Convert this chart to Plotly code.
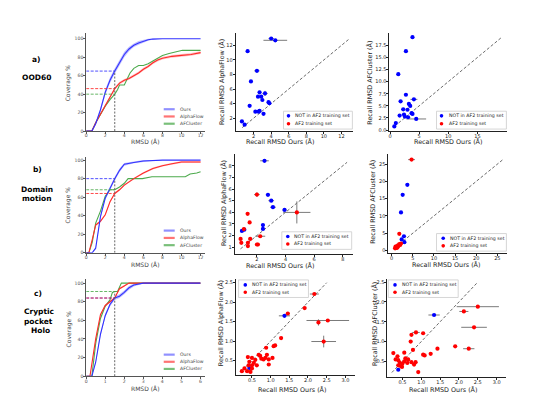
import plotly.graph_objects as go

W, H = 554, 394

# ---------------- Coverage curves (column 1) ----------------
# Row a) OOD60
ours_a_x = [0, 0.6, 1.0, 1.5, 2.0, 2.5, 3.0, 3.5, 4.0, 4.5, 5.0, 5.5, 6.0, 6.5, 7.0, 8.0, 12.0]
ours_a_y = [0, 0, 8, 23, 42, 55, 65, 74, 83, 89, 93, 95.5, 97.5, 99, 99.7, 100, 100]
ours_a_sd = [0, 0, 1.5, 2.5, 3, 3, 3, 3, 3, 2.5, 2, 2, 1.5, 1, 0.5, 0, 0]
af_a_x = [0, 0.6, 1.0, 1.5, 2.0, 2.5, 3.0, 3.5, 4.0, 4.5, 5.0, 5.5, 6.0, 6.5, 7.0, 7.5, 8.0, 9.0, 10.0, 11.0, 12.0]
af_a_y = [0, 0, 9, 18, 28, 37, 46, 52, 55, 57, 60, 63, 67, 70, 74, 77, 79, 81, 82, 83, 85]
af_a_sd = [0, 0, 1, 1, 1.5, 1.5, 1.5, 1.5, 1.5, 1.5, 1.5, 1.5, 1.5, 1.5, 1.5, 1.5, 1.5, 1.5, 1.5, 1.5, 1.5]
afc_a_x = [0, 0.6, 1.0, 1.5, 2.0, 2.5, 3.0, 3.3, 3.5, 4.0, 4.3, 4.6, 5.0, 5.5, 6.0, 6.5, 7.0, 7.5, 8.0, 8.7, 9.4, 10.1, 12.0]
afc_a_y = [0, 0, 9, 18, 27, 34, 40, 45, 50, 50, 57, 63, 68, 71, 71, 73, 76, 79, 82, 84, 86, 87.5, 87.5]
thr_a_x = 3.0
thr_a = [65, 46, 40]   # Ours, AlphaFlow, AFCluster coverage at threshold

# Row b) Domain motion
ours_b_x = [0, 0.63, 1.0, 1.33, 1.5, 2.0, 2.5, 3.0, 3.5, 4.0, 5.0, 6.0, 8.0, 12.0]
ours_b_y = [0, 0, 5, 25, 39, 59, 70, 80, 89, 95.5, 97.5, 99, 100, 100]
ours_b_sd = [0, 0, 1, 1.5, 2, 2, 2, 2, 2, 1.5, 1, 1, 0, 0]
af_b_x = [0, 0.28, 0.63, 1.0, 1.5, 2.0, 2.5, 3.0, 3.5, 4.0, 5.0, 6.0, 7.0, 8.0, 9.0, 10.0, 12.0]
af_b_y = [0, 0, 14, 30, 34, 41, 55, 64, 68, 73, 80, 86, 91, 94, 96, 98, 98]
af_b_sd = [0, 0, 1, 1, 1, 1, 1, 1, 1, 1, 1, 1, 1, 1, 1, 1, 1]
afc_b_x = [0, 0.28, 0.63, 1.0, 1.5, 2.0, 2.5, 3.0, 3.5, 4.0, 4.4, 5.9, 6.9, 10.4, 10.9, 11.6, 12.0]
afc_b_y = [0, 0, 11, 32, 45, 61, 68, 68, 71, 75, 80, 80, 82, 82, 85, 86, 87.5]
thr_b_x = 3.0
thr_b = [80, 64, 68]

# Row c) Cryptic pocket Holo
ours_c_x = [0, 0.3, 0.5, 0.75, 1.0, 1.25, 1.5, 1.75, 2.0, 2.25, 2.5, 3.0, 6.0]
ours_c_y = [0, 0, 15, 45, 65, 77, 84, 86, 90, 95, 98, 100, 100]
ours_c_sd = [0, 0, 1.5, 2, 2, 2, 2, 2, 2, 2, 1.5, 0.5, 0.5]
af_c_x = [0, 0.2, 0.5, 0.75, 1.0, 1.25, 1.5, 1.6, 1.75, 2.0, 2.25, 6.0]
af_c_y = [0, 0, 40, 66, 76, 80, 84, 88, 94, 97, 100, 100]
af_c_sd = [0, 0, 1, 1, 1, 1, 1, 1, 1, 1, 0.5, 0.5]
afc_c_x = [0, 0.3, 0.5, 0.75, 1.0, 1.25, 1.38, 1.5, 1.65, 1.85, 6.0]
afc_c_y = [0, 0, 35, 62, 75, 82, 90, 91, 91, 100, 100]
thr_c_x = 1.5
thr_c = [84, 84, 91]

cov_names = ["Ours", "AlphaFlow", "AFCluster"]

# ---------------- Scatter panels ----------------
# a) OOD60 vs AlphaFlow (all NOT in AF2 training set)
a2_blue_x = [4.0, 4.47, 1.32, 2.38, 1.7, 2.68, 2.5, 2.87, 3.3, 3.0, 3.7, 3.8, 1.55, 2.2, 2.57, 2.68, 3.13, 0.67, 0.98]
a2_blue_y = [12.95, 12.7, 11.2, 8.5, 7.05, 5.55, 4.95, 4.95, 5.4, 4.5, 4.2, 4.05, 3.7, 2.9, 2.9, 3.0, 2.6, 1.55, 1.1]
a2_blue_ex = [0.3, 1.35, 0.1, 0.3, 0.1, 0.1, 0.15, 0.1, 0.3, 0.1, 0.15, 0.2, 0.1, 0.1, 0.2, 0.1, 0.1, 0.1, 0.1]
a2_blue_ey = [0.1, 0.1, 0.1, 0.2, 0.1, 0.15, 0.1, 0.1, 0.35, 0.1, 0.1, 0.15, 0.1, 0.1, 0.1, 0.15, 0.1, 0.1, 0.1]
a2_diag = [0.7, 12.8]

# a) OOD60 vs AFCluster
a3_blue_x = [3.86, 2.73, 1.42, 2.73, 4.1, 1.82, 3.24, 3.47, 2.27, 3.0, 3.7, 3.86, 2.4, 1.65, 2.55, 3.1, 4.5, 1.0, 0.74]
a3_blue_y = [19.2, 16.3, 11.55, 7.3, 6.35, 5.95, 5.4, 5.0, 4.3, 4.2, 3.5, 3.35, 3.2, 3.0, 2.8, 2.65, 2.3, 1.45, 0.75]
a3_blue_ex = [0.1, 0.1, 0.1, 0.1, 0.6, 0.1, 0.15, 0.1, 0.1, 0.1, 0.15, 0.2, 0.1, 0.1, 0.1, 0.1, 1.7, 0.1, 0.1]
a3_diag = [0.8, 19.1]

# b) Domain motion vs AlphaFlow
b2_blue_x = [2.53, 2.77, 3.0, 3.12, 3.93, 2.42, 2.42, 0.95, 1.12]
b2_blue_y = [8.43, 5.5, 5.0, 4.44, 4.2, 2.9, 2.57, 2.4, 2.5]
b2_blue_ex = [0.3, 0.15, 0.2, 0.2, 0.15, 0.1, 0.1, 0.1, 0.1]
b2_red_x = [2.0, 1.35, 1.49, 1.09, 0.86, 1.53, 0.91, 1.37, 1.37, 2.0, 2.07, 2.23, 4.79]
b2_red_y = [5.52, 3.87, 3.13, 2.56, 1.71, 1.71, 1.37, 1.37, 1.09, 1.23, 1.23, 1.94, 3.99]
b2_red_ex = [0.2, 0.05, 0.1, 0.1, 0.05, 0.1, 0.05, 0.05, 0.05, 0.1, 0.1, 0.35, 0.95]
b2_red_ey = [0.2, 0.05, 0.1, 0.05, 0.05, 0.05, 0.05, 0.05, 0.05, 0.05, 0.05, 0.1, 0.95]
b2_diag = [0.85, 8.3]

# b) Domain motion vs AFCluster
b3_blue_x = [3.7, 2.6, 2.2, 2.9, 2.36, 3.0]
b3_blue_y = [19.0, 16.1, 11.0, 4.1, 3.2, 2.4]
b3_red_x = [4.7, 1.8, 0.8, 1.0, 1.2, 1.4, 1.5, 1.6, 1.8, 2.0, 2.2, 1.1, 1.3, 0.9]
b3_red_y = [26.3, 4.8, 0.6, 0.9, 1.2, 1.0, 1.5, 1.3, 1.8, 1.6, 2.0, 0.7, 0.8, 1.1]
b3_red_ex = [0.8, 0.1, 0.05, 0.05, 0.05, 0.05, 0.05, 0.05, 0.05, 0.05, 0.05, 0.05, 0.05, 0.05]
b3_diag = [0.9, 26.2]

# c) Cryptic pocket vs AlphaFlow
c2_blue_x = [1.37, 0.43]
c2_blue_y = [1.65, 0.31]
c2_blue_ex = [0.15, 0.03]
c2_red_x = [2.17, 1.46, 1.91, 2.28, 2.53, 2.42, 1.28, 1.12, 1.08, 0.88, 0.95, 0.39, 0.5, 0.43, 0.59, 0.55,
            0.68, 0.72, 0.75, 0.81, 0.86, 0.9, 0.95, 1.05, 0.63, 0.5, 0.41, 0.37, 0.3, 0.23, 0.46, 0.5]
c2_red_y = [2.21, 1.71, 1.85, 1.48, 1.53, 0.99, 1.08, 0.89, 0.87, 0.83, 0.4, 0.59, 0.57, 0.47, 0.52, 0.44,
            0.65, 0.62, 0.55, 0.53, 0.57, 0.65, 0.53, 0.57, 0.38, 0.38, 0.38, 0.23, 0.3, 0.23, 0.21, 0.3]
c2_red_ex = [0.12, 0.05, 0.04, 0.03, 0.57, 0.33, 0.03, 0.03, 0.03, 0.03, 0.02, 0.02, 0.02, 0.02, 0.02, 0.02,
             0.02, 0.02, 0.02, 0.02, 0.02, 0.02, 0.02, 0.02, 0.02, 0.02, 0.02, 0.02, 0.02, 0.02, 0.02, 0.02]
c2_red_ey = [0.03, 0.03, 0.03, 0.08, 0.03, 0.15, 0.03, 0.03, 0.03, 0.03, 0.02, 0.02, 0.02, 0.02, 0.02, 0.02,
             0.02, 0.02, 0.02, 0.02, 0.02, 0.02, 0.02, 0.02, 0.02, 0.02, 0.02, 0.02, 0.02, 0.02, 0.02, 0.02]
c2_diag = [0.25, 2.5]

# c) Cryptic pocket vs AFCluster
c3_blue_x = [1.34, 0.39]
c3_blue_y = [1.67, 0.29]
c3_blue_ex = [0.15, 0.03]
c3_red_x = [2.5, 2.13, 2.4, 1.9, 2.26, 1.43, 1.25, 1.05, 1.09, 0.86, 0.74, 1.05, 0.72, 0.78, 0.65, 0.63, 0.74,
            0.85, 0.81, 0.92, 0.26, 0.37, 0.39, 0.32, 0.55, 0.58, 0.65, 0.43, 0.5, 0.49, 0.55, 0.39, 0.46]
c3_red_y = [1.88, 1.76, 1.36, 0.88, 0.82, 0.82, 0.69, 0.67, 0.65, 1.23, 1.17, 1.21, 1.0, 0.79, 0.54, 0.46, 0.48,
            0.48, 0.42, 0.23, 0.71, 0.63, 0.53, 0.55, 0.72, 0.58, 0.55, 0.47, 0.44, 0.36, 0.5, 0.4, 0.38]
c3_red_ex = [0.56, 0.12, 0.34, 0.03, 0.15, 0.03, 0.02, 0.03, 0.02, 0.1, 0.02, 0.04, 0.02, 0.02, 0.02, 0.02, 0.02,
             0.02, 0.02, 0.02, 0.02, 0.02, 0.02, 0.02, 0.02, 0.02, 0.02, 0.02, 0.02, 0.02, 0.02, 0.02, 0.02]
c3_diag = [0.22, 2.48]

scatter_names = ["NOT in AF2 training set", "AF2 training set"]

# ---------------- styling ----------------
BLUE = "#3232ff"
RED = "#ff2a2a"
GREEN = "#4caa4c"
BAND_BLUE = "rgba(90,90,255,0.40)"
BAND_RED = "rgba(255,90,90,0.35)"
PT_BLUE = "#0000ff"
PT_RED = "#ff0000"
ERR = "#7a7a7a"
FONT = "DejaVu Sans"


def X(p):
    return p / W


def Y(p):
    return 1 - p / H


fig = go.Figure()

# idx -> (x px range, y px range(top,bottom), xrange, yrange, xticks, yticks, fmt, kind)
axes = {
    1: ((77.3, 196.7), (25, 124), [0, 12.5], [0, 106.5], [0, 2, 4, 6, 8, 10, 12], [0, 20, 40, 60, 80, 100], "", "cov"),
    2: ((227, 345), (25, 124), [-0.05, 13.36], [0.23, 13.73], [2, 4, 6, 8, 10, 12], [2, 4, 6, 8, 10, 12], "", "sc"),
    3: ((381, 499), (25, 124), [-0.12, 20.1], [-0.2, 20.1], [0, 5, 10, 15], [0, 2.5, 5, 7.5, 10, 12.5, 15, 17.5], "y1", "sc"),
    4: ((77.3, 196.7), (150, 246.7), [0, 12.5], [0, 103.5], [0, 2, 4, 6, 8, 10, 12], [0, 20, 40, 60, 80, 100], "", "cov"),
    5: ((226, 345), (146.7, 247.5), [0.44, 8.74], [0.445, 9.05], [2, 4, 6, 8], [1, 2, 3, 4, 5, 6, 7, 8], "", "sc"),
    6: ((380, 499), (146.7, 247), [-0.8, 27.3], [-0.78, 28.05], [0, 5, 10, 15, 20, 25], [0, 5, 10, 15, 20, 25], "", "sc"),
    7: ((77.3, 196.7), (273.3, 371), [0, 6.26], [0, 104.2], [0, 1, 2, 3, 4, 5, 6], [0, 20, 40, 60, 80, 100], "", "cov"),
    8: ((227.3, 346.7), (273.3, 370), [0.07, 3.26], [0.126, 2.59], [0.5, 1.0, 1.5, 2.0, 2.5, 3.0], [0.5, 1.0, 1.5, 2.0, 2.5], "xy1", "sc"),
    9: ((379, 498), (273, 371.7), [0.1, 3.25], [0.11, 2.58], [0.5, 1.0, 1.5, 2.0, 2.5, 3.0], [0.5, 1.0, 1.5, 2.0, 2.5], "xy1", "sc"),
}

layout_axes = {}
for i, (xp, yp, xr, yr, xt, yt, fmt, kind) in axes.items():
    sfx = "" if i == 1 else str(i)
    if kind == "cov":
        lc, tf, tsize = "#555555", "#555555", 4.6
    else:
        lc, tf, tsize = "#222222", "#222222", 5.0
    common = dict(showgrid=False, zeroline=False, showline=True, linecolor=lc, linewidth=0.8,
                  ticks="outside", ticklen=2, tickwidth=0.7, tickcolor=lc,
                  tickfont=dict(family=FONT, size=tsize, color=tf), fixedrange=True)
    xfmt = ".1f" if "x" in fmt else ""
    yfmt = ".1f" if "y" in fmt else ""
    layout_axes["xaxis" + sfx] = dict(common, domain=[X(xp[0]), X(xp[1])], range=xr, ticklabelstandoff=-2,
                                      tickvals=xt, tickformat=xfmt, anchor="y" + sfx)
    layout_axes["yaxis" + sfx] = dict(common, domain=[Y(yp[1]), Y(yp[0])], range=yr, ticklabelstandoff=-1,
                                      tickvals=yt, tickformat=yfmt, anchor="x" + sfx)


def axref(i):
    return ("x" if i == 1 else "x%d" % i), ("y" if i == 1 else "y%d" % i)


def add_band(i, xs, ys, sd, color):
    xa, ya = axref(i)
    lo = [y - s for y, s in zip(ys, sd)]
    hi = [min(y + s, 100.3) for y, s in zip(ys, sd)]
    fig.add_trace(go.Scatter(x=xs, y=lo, mode="lines", line=dict(width=0), showlegend=False,
                             xaxis=xa, yaxis=ya, hoverinfo="skip"))
    fig.add_trace(go.Scatter(x=xs, y=hi, mode="lines", line=dict(width=0), fill="tonexty",
                             fillcolor=color, showlegend=False, xaxis=xa, yaxis=ya, hoverinfo="skip"))


def add_cov(i, ours, af, afc, thr_x, thr):
    xa, ya = axref(i)
    add_band(i, ours[0], ours[1], ours[2], BAND_BLUE)
    add_band(i, af[0], af[1], af[2], BAND_RED)
    fig.add_trace(go.Scatter(x=afc[0], y=afc[1], mode="lines", line=dict(color=GREEN, width=1.1),
                             showlegend=False, xaxis=xa, yaxis=ya))
    fig.add_trace(go.Scatter(x=af[0], y=af[1], mode="lines", line=dict(color=RED, width=1.1),
                             showlegend=False, xaxis=xa, yaxis=ya))
    fig.add_trace(go.Scatter(x=ours[0], y=ours[1], mode="lines", line=dict(color=BLUE, width=1.1),
                             showlegend=False, xaxis=xa, yaxis=ya))
    cols = [BLUE, RED, GREEN]
    for c, v in zip(cols, thr):
        fig.add_trace(go.Scatter(x=[0, thr_x], y=[v, v], mode="lines",
                                 line=dict(color=c, width=1, dash="3px,1.5px"),
                                 showlegend=False, xaxis=xa, yaxis=ya, opacity=0.85))
    fig.add_trace(go.Scatter(x=[thr_x, thr_x], y=[0, max(thr)], mode="lines",
                             line=dict(color="#666666", width=1, dash="2px,1.5px"),
                             showlegend=False, xaxis=xa, yaxis=ya))


add_cov(1, (ours_a_x, ours_a_y, ours_a_sd), (af_a_x, af_a_y, af_a_sd), (afc_a_x, afc_a_y), thr_a_x, thr_a)
add_cov(4, (ours_b_x, ours_b_y, ours_b_sd), (af_b_x, af_b_y, af_b_sd), (afc_b_x, afc_b_y), thr_b_x, thr_b)
add_cov(7, (ours_c_x, ours_c_y, ours_c_sd), (af_c_x, af_c_y, af_c_sd), (afc_c_x, afc_c_y), thr_c_x, thr_c)


def add_sc(i, diag, bx, by, bex, bey, rx=None, ry=None, rex=None, rey=None):
    xa, ya = axref(i)
    fig.add_trace(go.Scatter(x=diag, y=diag, mode="lines", line=dict(color="#444444", width=0.8, dash="3px,2px"),
                             showlegend=False, xaxis=xa, yaxis=ya))

    def err(a):
        if a is None:
            return dict(visible=False)
        return dict(type="data", array=a, color=ERR, thickness=1, width=0)

    fig.add_trace(go.Scatter(x=bx, y=by, mode="markers", marker=dict(color=PT_BLUE, size=4.2),
                             error_x=err(bex), error_y=err(bey), showlegend=False, xaxis=xa, yaxis=ya))
    if rx is not None:
        fig.add_trace(go.Scatter(x=rx, y=ry, mode="markers", marker=dict(color=PT_RED, size=4.2),
                                 error_x=err(rex), error_y=err(rey), showlegend=False, xaxis=xa, yaxis=ya))


add_sc(2, a2_diag, a2_blue_x, a2_blue_y, a2_blue_ex, a2_blue_ey)
add_sc(3, a3_diag, a3_blue_x, a3_blue_y, a3_blue_ex, None)
add_sc(5, b2_diag, b2_blue_x, b2_blue_y, b2_blue_ex, None, b2_red_x, b2_red_y, b2_red_ex, b2_red_ey)
add_sc(6, b3_diag, b3_blue_x, b3_blue_y, None, None, b3_red_x, b3_red_y, b3_red_ex, None)
add_sc(8, c2_diag, c2_blue_x, c2_blue_y, c2_blue_ex, None, c2_red_x, c2_red_y, c2_red_ex, c2_red_ey)
add_sc(9, c3_diag, c3_blue_x, c3_blue_y, c3_blue_ex, None, c3_red_x, c3_red_y, c3_red_ex, None)

annotations = []
shapes = []


def text(px, py, s, size, color="#333333", angle=0, bold=False, xanchor="center", family=FONT):
    if bold:
        s = "<b>" + s + "</b>"
    annotations.append(dict(x=X(px), y=Y(py), xref="paper", yref="paper", text=s, showarrow=False,
                            textangle=angle, xanchor=xanchor, yanchor="middle",
                            font=dict(family=family, size=size, color=color)))


# Row labels
text(28, 52, "a)", 7.5, "#000", bold=True)
text(28, 70, "OOD60", 7.5, "#000", bold=True)
text(29, 163, "b)", 7.5, "#000", bold=True)
text(28, 183, "Domain", 7.5, "#000", bold=True)
text(28, 192, "motion", 7.5, "#000", bold=True)
text(29, 288, "c)", 7.5, "#000", bold=True)
text(30, 306, "Cryptic", 7.5, "#000", bold=True)
text(30, 315.5, "pocket", 7.5, "#000", bold=True)
text(32, 325, "Holo", 7.5, "#000", bold=True)

# Coverage axis titles
for yc, yx in [(75, 135), (198, 258.5), (323, 383.5)]:
    text(60, yc, "Coverage %", 6, "#444444", angle=-90)
    text(136, yx, "RMSD (Å)", 6, "#444444")

# Scatter axis titles
text(214, 75, "Recall RMSD AlphaFlow (Å)", 6.4, "#222", angle=-90)
text(272, 135, "Recall RMSD Ours (Å)", 6.4, "#222")
text(362, 75, "Recall RMSD AFCluster (Å)", 6.4, "#222", angle=-90)
text(440, 135, "Recall RMSD Ours (Å)", 6.4, "#222")
text(215, 197, "Recall RMSD AlphaFlow (Å)", 6.4, "#222", angle=-90)
text(272, 259.5, "Recall RMSD Ours (Å)", 6.4, "#222")
text(364, 195, "Recall RMSD AFCluster (Å)", 6.4, "#222", angle=-90)
text(438, 259, "Recall RMSD Ours (Å)", 6.4, "#222")
text(212, 318, "Recall RMSD AlphaFlow (Å)", 6.4, "#222", angle=-90)
text(284, 384.5, "Recall RMSD Ours (Å)", 6.4, "#222")
text(366, 318, "Recall RMSD AFCluster (Å)", 6.4, "#222", angle=-90)
text(435, 384.5, "Recall RMSD Ours (Å)", 6.4, "#222")

# Coverage legends (manual)
leg_cols = ["rgba(70,70,255,0.6)", "rgba(255,70,70,0.75)", "rgba(76,170,76,0.75)"]
for ys in [(102, 109.3, 116.6), (224.3, 231.7, 239), (349.3, 356.5, 363.7)]:
    for yy, c, name in zip(ys, leg_cols, cov_names):
        shapes.append(dict(type="line", xref="paper", yref="paper", x0=X(155), x1=X(166), y0=Y(yy), y1=Y(yy),
                           line=dict(color=c, width=2.2)))
        text(169, yy, name, 4.6, "#444444", xanchor="left")

# Scatter legends (manual)
sc_legs = [
    ((275, 344, 104, 122), 280, 284.5, (108.7, 116.7)),
    ((428.3, 498.3, 104, 122), 433.3, 439, (108.7, 116.7)),
    ((273.3, 343.3, 225.5, 243.2), 279.3, 284, (230.2, 237.8)),
    ((428.3, 498.3, 227.3, 245), 435, 440, (232, 239.7)),
    ((230, 300, 274, 291.7), 236.7, 241.5, (279, 286.4)),
    ((380, 450, 274, 291.7), 386.7, 391.5, (279, 286.4)),
]
for (bx0, bx1, by0, by1), dx, tx, rows in sc_legs:
    shapes.append(dict(type="rect", xref="paper", yref="paper", x0=X(bx0), x1=X(bx1), y0=Y(by1), y1=Y(by0),
                       line=dict(color="#cccccc", width=0.8), fillcolor="rgba(255,255,255,0.85)"))
    for yy, c, name in zip(rows, [PT_BLUE, PT_RED], scatter_names):
        r = 1.8
        shapes.append(dict(type="circle", xref="paper", yref="paper", x0=X(dx - r), x1=X(dx + r),
                           y0=Y(yy + r), y1=Y(yy - r), line=dict(width=0), fillcolor=c))
        text(tx, yy, name, 4.7, "#222222", xanchor="left")

fig.update_layout(
    width=W, height=H, margin=dict(l=0, r=0, t=0, b=0),
    paper_bgcolor="white", plot_bgcolor="white", showlegend=False,
    annotations=annotations, shapes=shapes, **layout_axes,
)

fig.write_html("out.html")
